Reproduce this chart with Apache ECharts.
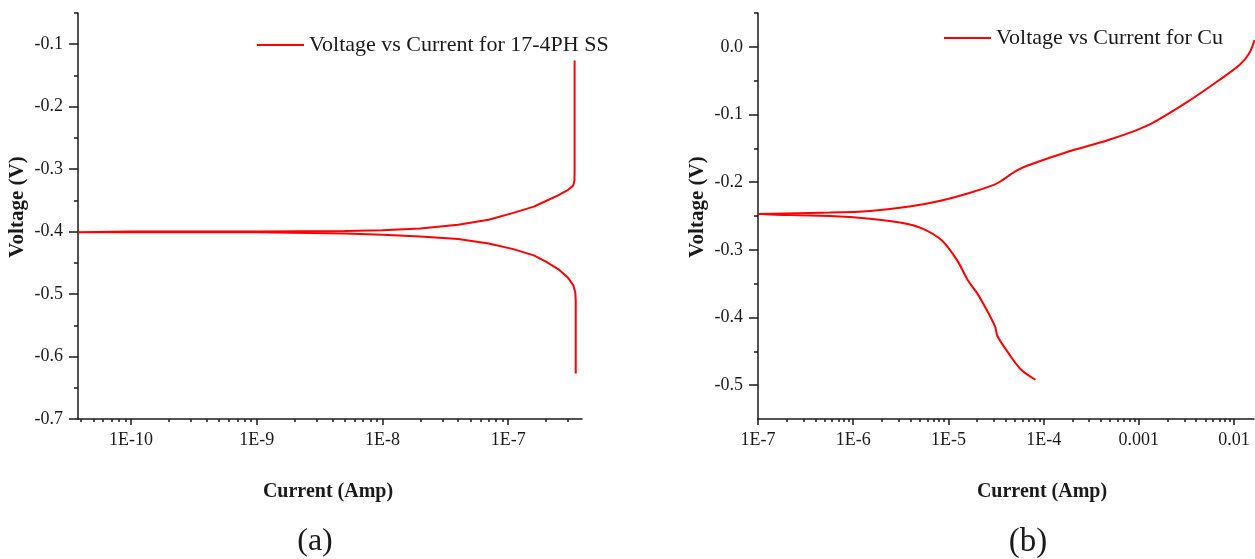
<!DOCTYPE html>
<html>
<head>
<meta charset="utf-8">
<script src="https://cdn.jsdelivr.net/npm/echarts@6/dist/echarts.min.js"></script>
<style>
  html, body { margin: 0; padding: 0; background: #fff; }
  #chart { width: 1255px; height: 559px; }
</style>
</head>
<body>
<div id="chart"></div>
<script>
// ---- data ----
// (a) 17-4PH SS
const ssCathodicI = [3.78e-11, 1e-10, 1e-9, 5e-9, 1e-8, 2e-8, 4e-8, 7e-8, 1.1e-7, 1.6e-7, 2.0e-7, 2.5e-7, 3.0e-7, 3.3e-7, 3.42e-7, 3.45e-7, 3.45e-7];
const ssCathodicV = [-0.401, -0.401, -0.401, -0.403, -0.405, -0.408, -0.412, -0.419, -0.428, -0.438, -0.448, -0.460, -0.474, -0.486, -0.497, -0.510, -0.627];
const ssAnodicI = [3.78e-11, 1e-10, 1e-9, 5e-9, 1e-8, 2e-8, 4e-8, 7e-8, 1.1e-7, 1.6e-7, 2.0e-7, 2.5e-7, 3.0e-7, 3.3e-7, 3.37e-7, 3.38e-7, 3.38e-7];
const ssAnodicV = [-0.400, -0.400, -0.400, -0.399, -0.398, -0.395, -0.389, -0.381, -0.370, -0.360, -0.351, -0.342, -0.333, -0.326, -0.318, -0.300, -0.126];

// (b) Cu
const cuCathodicI = [1e-7, 5.7e-7, 1.5e-6, 3.2e-6, 5.2e-6, 8.5e-6, 1.24e-5, 1.6e-5, 2.0e-5, 2.55e-5, 3.1e-5, 3.26e-5, 4.1e-5, 5.7e-5, 8.2e-5];
const cuCathodicV = [-0.247, -0.250, -0.254, -0.260, -0.268, -0.286, -0.316, -0.345, -0.364, -0.390, -0.414, -0.427, -0.449, -0.476, -0.492];
const cuAnodicI = [1e-7, 5.7e-7, 1.5e-6, 3.9e-6, 8.5e-6, 1.66e-5, 3.0e-5, 3.5e-5, 5.2e-5, 6.9e-5, 1.8e-4, 4.7e-4, 1.24e-3, 3.26e-3, 7.0e-3, 1.14e-2, 1.45e-2, 1.64e-2];
const cuAnodicV = [-0.246, -0.245, -0.2425, -0.236, -0.227, -0.216, -0.204, -0.199, -0.183, -0.175, -0.155, -0.138, -0.116, -0.081, -0.049, -0.027, -0.009, 0.010];

// tick labels
const ssCurrentTicks = [1e-10, 1e-9, 1e-8, 1e-7];
const cuCurrentTicks = [1e-7, 1e-6, 1e-5, 1e-4, 1e-3, 1e-2];
const ssVoltTicks = [-0.7, -0.6, -0.5, -0.4, -0.3, -0.2, -0.1];
const cuVoltTicks = [-0.5, -0.4, -0.3, -0.2, -0.1, 0.0];

const ssName = 'Voltage vs Current for 17-4PH SS';
const cuName = 'Voltage vs Current for Cu';

// ---- helpers ----
const FONT = '"Liberation Serif", "Times New Roman", serif';
const INK = '#1a1a1a';
const RED = '#ff0000';

// one sweep: cathodic branch from its far end back to Ecorr, then the anodic branch out
const sweep = (ci, cv, ai, av) => {
	const pts = [];
	for (let i = ci.length - 1; i >= 0; i--) pts.push([ci[i], cv[i]]);
	for (let i = 0; i < ai.length; i++) pts.push([ai[i], av[i]]);
	return pts;
};

// 2..9 x 10^k between decades, kept inside [min, max]
const logMinors = (min, max) => {
	const out = [];
	for (let e = Math.floor(Math.log10(min)); e <= Math.ceil(Math.log10(max)); e++) {
		for (let m = 2; m <= 9; m++) {
			const v = m * Math.pow(10, e);
			if (v >= min && v <= max) out.push(v);
		}
	}
	return out;
};
// minor ticks half way between the labelled ones
const halfSteps = (ticks, top) => ticks.map((v) => +(v + 0.05).toFixed(2)).filter((v) => v <= top + 1e-9);

const logLabel = (v) => {
	const e = Math.round(Math.log10(v));
	return e >= -3 ? String(+v.toFixed(-e)) : '1E' + e;
};

const tickLine = { color: INK, width: 1.5 };
const labelFont = { fontFamily: FONT, fontSize: 18, color: INK };

const xPair = (gridIndex, min, max, major) => [
	{
		type: 'log', logBase: 10, gridIndex, min, max, position: 'bottom',
		axisLine: { onZero: false, lineStyle: tickLine },
		axisTick: { customValues: major, length: 6, lineStyle: tickLine },
		axisLabel: Object.assign({ customValues: major, formatter: logLabel, margin: 12 }, labelFont),
		splitLine: { show: false },
	},
	{
		type: 'log', logBase: 10, gridIndex, min, max, position: 'bottom',
		axisLine: { show: false, onZero: false },
		axisTick: { customValues: logMinors(min, max), length: 3, lineStyle: tickLine },
		axisLabel: { show: false },
		splitLine: { show: false },
	},
];

const yPair = (gridIndex, min, max, major) => [
	{
		type: 'value', gridIndex, min, max, position: 'left',
		axisLine: { show: true, onZero: false, lineStyle: tickLine },
		axisTick: { show: true, customValues: major, length: 9, lineStyle: tickLine },
		axisLabel: Object.assign({ customValues: major, formatter: (v) => (Math.abs(v) < 1e-9 ? 0 : v).toFixed(1), margin: 15 }, labelFont),
		splitLine: { show: false },
	},
	{
		type: 'value', gridIndex, min, max, position: 'left',
		axisLine: { show: false, onZero: false },
		axisTick: { show: true, customValues: halfSteps(major, max), length: 4, lineStyle: tickLine },
		axisLabel: { show: false },
		splitLine: { show: false },
	},
];

const legendStyle = {
	icon: 'rect', itemWidth: 47, itemHeight: 2,
	textStyle: { fontFamily: FONT, fontSize: 22, color: INK },
};

const text = (str, x, y, size, bold, rot) => ({
	type: 'text', x, y, rotation: rot || 0,
	style: {
		text: str, fontFamily: FONT, fontSize: size, fontWeight: bold ? 'bold' : 'normal',
		fill: INK, align: 'center', verticalAlign: 'middle',
	},
});

const option = {
	backgroundColor: '#fff',
	animation: false,
	grid: [
		{ left: 78, top: 13, width: 504, height: 406 },
		{ left: 758, top: 13, width: 496, height: 406 },
	],
	xAxis: [
		...xPair(0, 3.78e-11, 3.87e-7, ssCurrentTicks),
		...xPair(1, 1e-7, 0.0162, cuCurrentTicks),
	],
	yAxis: [
		...yPair(0, -0.7, -0.05, ssVoltTicks),
		...yPair(1, -0.55, 0.05, cuVoltTicks),
	],
	legend: [
		Object.assign({ data: [ssName], left: 252, top: 29 }, legendStyle),
		Object.assign({ data: [cuName], left: 939, top: 22 }, legendStyle),
	],
	series: [
		{
			name: ssName, type: 'line', xAxisIndex: 0, yAxisIndex: 0,
			symbol: 'none', lineStyle: { color: RED, width: 2 }, itemStyle: { color: RED },
			data: sweep(ssCathodicI, ssCathodicV, ssAnodicI, ssAnodicV),
		},
		{
			name: cuName, type: 'line', xAxisIndex: 2, yAxisIndex: 2,
			symbol: 'none', smooth: 0.3, lineStyle: { color: RED, width: 2 }, itemStyle: { color: RED },
			data: sweep(cuCathodicI, cuCathodicV, cuAnodicI, cuAnodicV),
		},
	],
	graphic: [
		text('Voltage (V)', 18, 207, 21, true, Math.PI / 2),
		text('Voltage (V)', 698, 207, 21, true, Math.PI / 2),
		text('Current (Amp)', 328, 492, 20, true),
		text('Current (Amp)', 1042, 492, 20, true),
		text('(a)', 315, 542, 32, false),
		text('(b)', 1028, 542, 33, false),
	],
};

const chart = echarts.init(document.getElementById('chart'), null, { renderer: 'canvas' });
chart.setOption(option);
</script>
</body>
</html>
